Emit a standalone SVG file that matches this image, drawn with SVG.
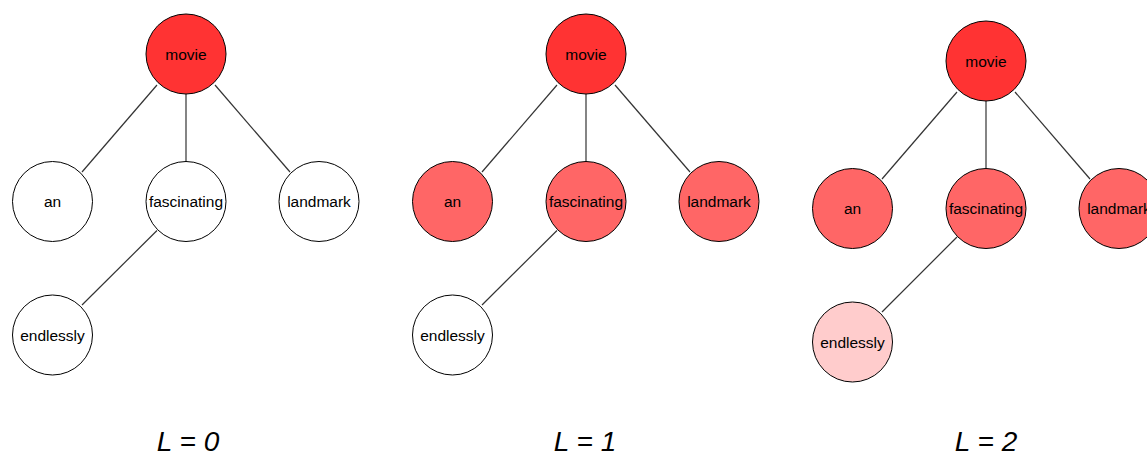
<svg xmlns="http://www.w3.org/2000/svg" width="1147" height="453" viewBox="0 0 1147 453">
<style>
.n{stroke:#000;stroke-width:1}
.w{fill:#FFFFFF}
.r0{fill:#FF3333}
.r1{fill:#FF6666}
.r2{fill:#FFCCCC}
.t{font-family:"Liberation Sans",Arial,sans-serif;font-size:15.5px;fill:#000;text-anchor:middle}
.e line{stroke:#333;stroke-width:1.2}
.lab{font-family:"Liberation Sans",Arial,sans-serif;font-size:28px;font-style:italic;fill:#000;text-anchor:middle}
</style>
<rect width="1147" height="453" fill="#fff"/>
<g id="connectors" class="e">
<line x1="157" y1="85" x2="82" y2="172"/>
<line x1="186" y1="94" x2="186" y2="162"/>
<line x1="215" y1="85" x2="290" y2="172"/>
<line x1="157" y1="230.5" x2="82" y2="305"/>
<line x1="557" y1="85" x2="482" y2="172"/>
<line x1="586" y1="94" x2="586" y2="162"/>
<line x1="615" y1="85" x2="690" y2="172"/>
<line x1="557" y1="230.5" x2="482" y2="305"/>
<line x1="957" y1="92" x2="882" y2="179"/>
<line x1="986" y1="101" x2="986" y2="168"/>
<line x1="1015" y1="92" x2="1090" y2="179"/>
<line x1="957" y1="237" x2="882" y2="312"/>
</g>
<g id="p0-movie"><circle class="n r0" cx="186" cy="54" r="40"/><text class="t" x="186" y="59.5">movie</text></g>
<g id="p0-an"><circle class="n w" cx="52.5" cy="201.5" r="40"/><text class="t" x="52.5" y="207">an</text></g>
<g id="p0-fascinating"><circle class="n w" cx="186" cy="201.5" r="40"/><text class="t" x="186" y="207">fascinating</text></g>
<g id="p0-landmark"><circle class="n w" cx="319" cy="201.5" r="40"/><text class="t" x="319" y="207">landmark</text></g>
<g id="p0-endlessly"><circle class="n w" cx="52.5" cy="335" r="40"/><text class="t" x="52.5" y="340.5">endlessly</text></g>

<g id="p1-movie"><circle class="n r0" cx="586" cy="54" r="40"/><text class="t" x="586" y="59.5">movie</text></g>
<g id="p1-an"><circle class="n r1" cx="452.5" cy="201.5" r="40"/><text class="t" x="452.5" y="207">an</text></g>
<g id="p1-fascinating"><circle class="n r1" cx="586" cy="201.5" r="40"/><text class="t" x="586" y="207">fascinating</text></g>
<g id="p1-landmark"><circle class="n r1" cx="719" cy="201.5" r="40"/><text class="t" x="719" y="207">landmark</text></g>
<g id="p1-endlessly"><circle class="n w" cx="452.5" cy="335" r="40"/><text class="t" x="452.5" y="340.5">endlessly</text></g>

<g id="p2-movie"><circle class="n r0" cx="986" cy="61" r="40"/><text class="t" x="986" y="66.5">movie</text></g>
<g id="p2-an"><circle class="n r1" cx="852.5" cy="208.5" r="40"/><text class="t" x="852.5" y="214">an</text></g>
<g id="p2-fascinating"><circle class="n r1" cx="986" cy="208.5" r="40"/><text class="t" x="986" y="214">fascinating</text></g>
<g id="p2-landmark"><circle class="n r1" cx="1119" cy="208.5" r="40"/><text class="t" x="1119" y="214">landmark</text></g>
<g id="p2-endlessly"><circle class="n r2" cx="852.5" cy="342" r="40"/><text class="t" x="852.5" y="347.5">endlessly</text></g>

<g id="labels">
<text class="lab" x="188" y="450.5">L = 0</text>
<text class="lab" x="585" y="450.5">L = 1</text>
<text class="lab" x="986" y="450.5">L = 2</text>
</g>
</svg>
